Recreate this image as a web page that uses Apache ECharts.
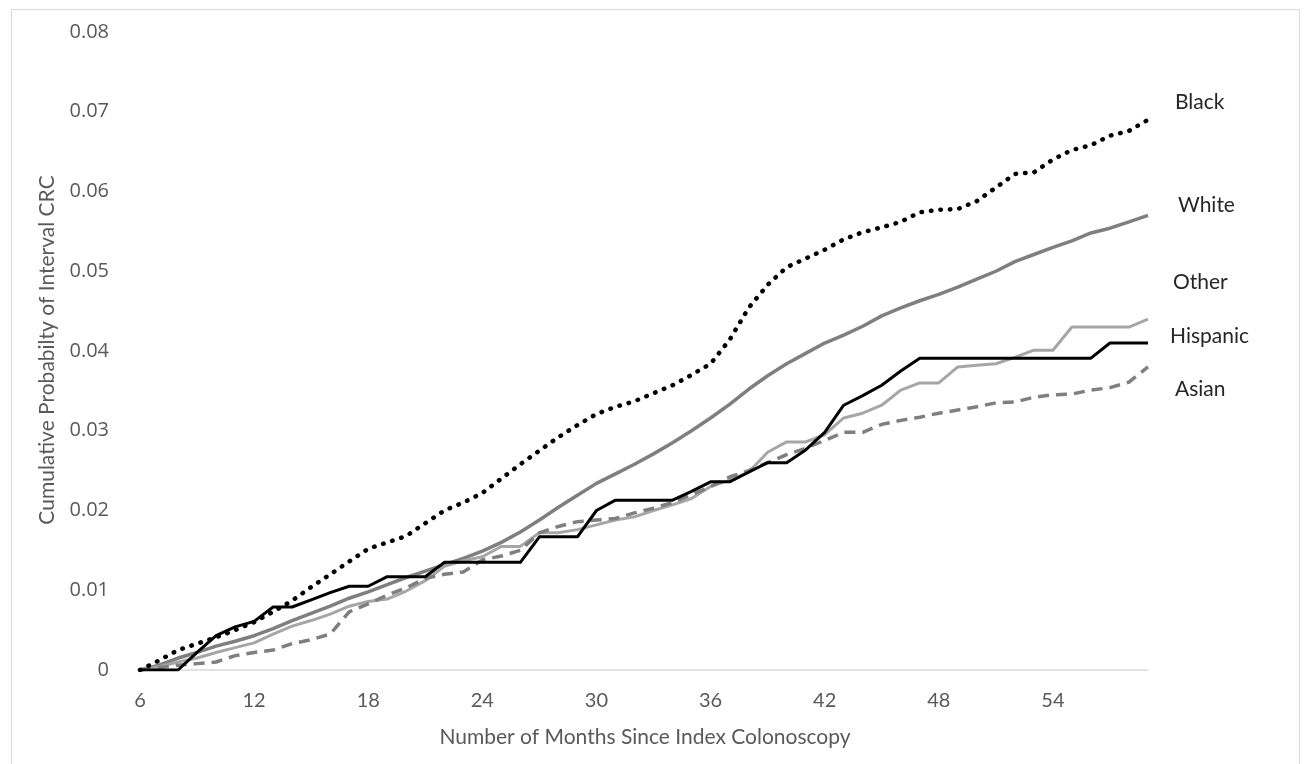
<!DOCTYPE html>
<html>
<head>
<meta charset="utf-8">
<script src="https://cdn.jsdelivr.net/npm/echarts@6/dist/echarts.min.js"></script>
<style>
html,body{margin:0;padding:0;background:#fff;}
#chart{width:1306px;height:764px;}
</style>
</head>
<body>
<div id="chart"></div>
<script>
const months = ['6','7','8','9','10','11','12','13','14','15','16','17','18','19','20','21','22','23','24','25','26','27','28','29','30','31','32','33','34','35','36','37','38','39','40','41','42','43','44','45','46','47','48','49','50','51','52','53','54','55','56','57','58','59'];
const yTicks = [0, 0.01, 0.02, 0.03, 0.04, 0.05, 0.06, 0.07, 0.08];

const black = [0, 0.0012, 0.0025, 0.0033, 0.0041, 0.005, 0.006, 0.0073, 0.0087, 0.0104, 0.012, 0.0136, 0.0152, 0.016, 0.0168, 0.0184, 0.020, 0.021, 0.0222, 0.024, 0.0258, 0.0275, 0.0292, 0.0307, 0.0321, 0.033, 0.0337, 0.0347, 0.0357, 0.037, 0.0384, 0.0414, 0.0454, 0.0483, 0.0505, 0.0516, 0.0527, 0.054, 0.0549, 0.0555, 0.0562, 0.0574, 0.0577, 0.0578, 0.0588, 0.0605, 0.0622, 0.0624, 0.064, 0.0652, 0.0658, 0.067, 0.0676, 0.069];
const white = [0, 0.0006, 0.0015, 0.0022, 0.003, 0.0036, 0.0043, 0.0052, 0.0062, 0.0071, 0.008, 0.009, 0.0098, 0.0107, 0.0116, 0.0124, 0.0132, 0.014, 0.0149, 0.016, 0.0173, 0.0188, 0.0204, 0.0219, 0.0234, 0.0246, 0.0258, 0.0271, 0.0285, 0.03, 0.0316, 0.0333, 0.0352, 0.0369, 0.0384, 0.0397, 0.041, 0.042, 0.0431, 0.0444, 0.0454, 0.0463, 0.0471, 0.048, 0.049, 0.05, 0.0512, 0.0521, 0.053, 0.0538, 0.0548, 0.0554, 0.0562, 0.057];
const other = [0, 0.0004, 0.001, 0.0015, 0.0022, 0.0028, 0.0034, 0.0045, 0.0055, 0.0062, 0.007, 0.008, 0.0086, 0.0089, 0.0099, 0.0112, 0.013, 0.0137, 0.0142, 0.0155, 0.0155, 0.0172, 0.0172, 0.0176, 0.0182, 0.0188, 0.0192, 0.02, 0.0207, 0.0215, 0.023, 0.0238, 0.0248, 0.0273, 0.0286, 0.0286, 0.0295, 0.0316, 0.0322, 0.0332, 0.0351, 0.036, 0.036, 0.038, 0.0382, 0.0384, 0.0392, 0.0401, 0.0401, 0.043, 0.043, 0.043, 0.043, 0.044];
const hispanic = [0, 0, 0, 0.0022, 0.0043, 0.0054, 0.0061, 0.0079, 0.0079, 0.0088, 0.0097, 0.0105, 0.0105, 0.0117, 0.0117, 0.0117, 0.0135, 0.0135, 0.0135, 0.0135, 0.0135, 0.0167, 0.0167, 0.0167, 0.02, 0.0213, 0.0213, 0.0213, 0.0213, 0.0224, 0.0236, 0.0236, 0.0248, 0.026, 0.026, 0.0276, 0.0298, 0.0332, 0.0344, 0.0357, 0.0375, 0.0391, 0.0391, 0.0391, 0.0391, 0.0391, 0.0391, 0.0391, 0.0391, 0.0391, 0.0391, 0.041, 0.041, 0.041];
const asian = [0, 0.0003, 0.0006, 0.0008, 0.001, 0.0018, 0.0022, 0.0025, 0.0033, 0.0038, 0.0045, 0.0073, 0.0083, 0.0094, 0.0103, 0.0115, 0.012, 0.0123, 0.0138, 0.0143, 0.015, 0.0172, 0.018, 0.0186, 0.0188, 0.019, 0.0197, 0.0203, 0.021, 0.022, 0.023, 0.0242, 0.025, 0.026, 0.027, 0.0278, 0.0288, 0.0298, 0.0298, 0.0308, 0.0313, 0.0317, 0.0322, 0.0326, 0.033, 0.0335, 0.0336, 0.0342, 0.0345, 0.0346, 0.0351, 0.0354, 0.0361, 0.038];

const chart = echarts.init(document.getElementById('chart'), null, {renderer: 'canvas'});
const labelFont = {fontFamily: 'Lato', fontSize: 21, color: '#262626'};

function lineSeries(name, data, color, width, type, cap, offset, z) {
  return {
    name: name,
    type: 'line',
    data: data,
    showSymbol: false,
    symbol: 'none',
    z: z,
    lineStyle: {color: color, width: width, type: type, cap: cap, join: 'round'},
    endLabel: Object.assign({show: true, formatter: name, distance: 0, offset: offset}, labelFont)
  };
}

chart.setOption({
  animation: false,
  backgroundColor: '#ffffff',
  grid: {left: 140, top: 32, width: 1008, height: 638, containLabel: false},
  xAxis: {
    type: 'category',
    data: months,
    boundaryGap: false,
    axisLine: {show: true, lineStyle: {color: '#d9d9d9', width: 1.5}},
    axisTick: {show: false},
    axisLabel: {interval: 5, color: '#595959', fontFamily: 'Lato', fontSize: 20, margin: 21},
    splitLine: {show: false}
  },
  yAxis: {
    type: 'value',
    min: 0,
    max: 0.08,
    interval: 0.01,
    axisLine: {show: false},
    axisTick: {show: false},
    splitLine: {show: false},
    axisLabel: {color: '#595959', fontFamily: 'Open Sans', fontSize: 20, margin: 31,
      formatter: function (v) { const r = Math.round(v * 100) / 100; return yTicks.indexOf(r) >= 0 ? String(r) : ''; }}
  },
  graphic: [
    {type: 'rect', left: 9, top: 7, shape: {width: 1288, height: 770}, style: {fill: 'none', stroke: '#d9d9d9', lineWidth: 1}, silent: true},
    {type: 'text', x: 645, y: 737, style: {text: 'Number of Months Since Index Colonoscopy', fill: '#595959', font: '21px Lato', textAlign: 'center', textVerticalAlign: 'middle'}},
    {type: 'text', x: 47, y: 350, rotation: Math.PI / 2, style: {text: 'Cumulative Probabilty of Interval CRC', fill: '#595959', font: '21px Lato', textAlign: 'center', textVerticalAlign: 'middle'}}
  ],
  series: [
    lineSeries('Black', black, '#000000', 4.5, [0.5, 9], 'round', [27, -17], 3),
    lineSeries('White', white, '#7f7f7f', 3.5, 'solid', 'butt', [30, -10], 2),
    lineSeries('Other', other, '#a6a6a6', 3, 'solid', 'butt', [25, -37], 2),
    lineSeries('Hispanic', hispanic, '#000000', 3, 'solid', 'butt', [22, -7], 4),
    lineSeries('Asian', asian, '#7f7f7f', 3.5, [11, 7], 'butt', [27, 22], 2)
  ]
});
</script>
</body>
</html>
